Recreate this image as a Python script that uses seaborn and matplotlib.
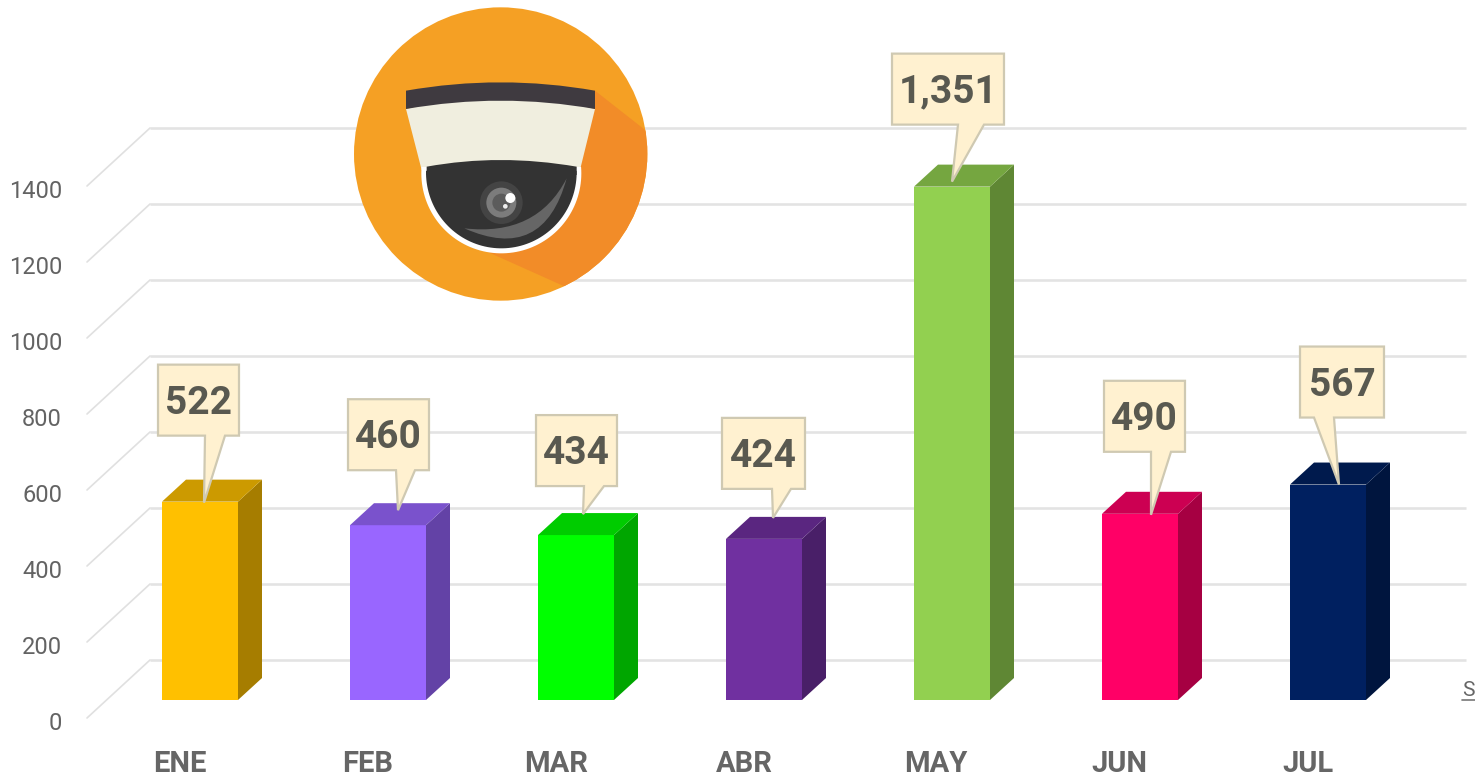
import numpy as np
import pandas as pd
import matplotlib
matplotlib.use('Agg')
import matplotlib.pyplot as plt
from matplotlib.colors import to_rgb
from matplotlib.patches import Circle, PathPatch, Polygon
from matplotlib.path import Path
import seaborn as sns

# chart data
months = ['ENE', 'FEB', 'MAR', 'ABR', 'MAY', 'JUN', 'JUL']
cases = [522, 460, 434, 424, 1351, 490, 567]
case_labels = ['522', '460', '434', '424', '1,351', '490', '567']
bar_colors = ['#FFC000', '#9966FF', '#00FF00', '#7030A0', '#92D050', '#FF0066', '#002060']
y_ticks = [0, 200, 400, 600, 800, 1000, 1200, 1400]

# callouts, in pixels from the top centre of each bar
box_left = [-42, -40, -40, -42, -60, -36, -28]
box_width = [81, 81, 81, 83, 112, 81, 84]
box_gap = [66, 55, 49, 50, 62, 62, 67]
tail_left = [5, 8, 8, 8, 6, 11, -14]
tail_right = [25, 27, 28, 27, 32, 31, 6]
tip_x = [4, 10, 7, 9, 0, 11, 11]
tip_y = [1, -15, -21, -21, -5, 1, 0]
box_height = 71

# scales of the picture
PX_PER_UNIT = 0.38
PX_PER_CAT = 188
DEPTH_X, DEPTH_Y = 24, 22


def dx(px):
    return px / PX_PER_CAT


def dy(px):
    return px / PX_PER_UNIT


def shade(color, k):
    return tuple(c * k for c in to_rgb(color))


sns.set_theme(style='white')
plt.rcParams['font.family'] = ['Roboto', 'DejaVu Sans']
fig = plt.figure(figsize=(14.75, 7.78), dpi=100)
ax = fig.add_axes([0, 0, 1, 1])

df = pd.DataFrame({'month': months, 'cases': cases})
sns.barplot(data=df, x='month', y='cases', hue='month', palette=bar_colors, legend=False,
            width=76 / PX_PER_CAT, saturation=1, linewidth=0, ax=ax, zorder=3)
ax.set_xlim(-200 / PX_PER_CAT, 1275 / PX_PER_CAT)
ax.set_ylim(dy(-78), dy(700))
ax.axis('off')

# back wall grid and the diagonal floor lines
grid_left = dx(150 - 200)
grid_right = dx(1466 - 200)
diag_left = dx(87 - 200)
for t in y_ticks:
    wall = t + dy(40)
    ax.plot([grid_left, grid_right], [wall, wall], color='#e3e3e3', lw=1.9, zorder=1, solid_capstyle='butt')
    ax.plot([diag_left, grid_left], [wall - dy(58), wall], color='#e0e0e0', lw=1.2, zorder=1)
    ax.text(dx(62 - 200), t - dy(23), str(t), ha='right', va='center', fontsize=17,
            color='#636363', zorder=2)

# 3d side and top faces of each bar
for bar, color in zip(ax.patches, bar_colors):
    x0, x1 = bar.get_x(), bar.get_x() + bar.get_width()
    top = bar.get_height()
    ax.add_patch(Polygon([(x1, 0), (x1 + dx(DEPTH_X), dy(DEPTH_Y)), (x1 + dx(DEPTH_X), top + dy(DEPTH_Y)), (x1, top)],
                         closed=True, fc=shade(color, 0.65), ec='none', zorder=3))
    ax.add_patch(Polygon([(x0, top), (x0 + dx(DEPTH_X), top + dy(DEPTH_Y)), (x1 + dx(DEPTH_X), top + dy(DEPTH_Y)), (x1, top)],
                         closed=True, fc=shade(color, 0.8), ec='none', zorder=3))

# value callouts
for i, value in enumerate(cases):
    left = i + dx(box_left[i])
    right = left + dx(box_width[i])
    bottom = value + dy(box_gap[i])
    top = bottom + dy(box_height)
    ax.add_patch(Polygon([(left, bottom), (left, top), (right, top), (right, bottom),
                          (i + dx(tail_right[i]), bottom),
                          (i + dx(tip_x[i]), value - dy(tip_y[i])),
                          (i + dx(tail_left[i]), bottom)],
                         closed=True, fc='#FFF1D0', ec='#CFC9B2', lw=1.6, zorder=5))
    ax.text((left + right) / 2, (bottom + top) / 2 - dy(3), case_labels[i], ha='center', va='center',
            fontsize=28, fontweight='bold', color='#595950', zorder=6)

# month labels sit a bit left of their bars
label_shift = [-20, -20, -20, -20, -16, -21, -20]
for i, m in enumerate(months):
    ax.text(i + dx(label_shift[i]), dy(-64), m, ha='center', va='center', fontsize=21,
            fontweight='bold', color='#666666', zorder=2)

# small text at the right edge, kept just inside the picture
ax.text(dx(1462 - 200), dy(9), 'S', ha='left', va='center', fontsize=15, color='#666666', zorder=2)
ax.plot([dx(1462 - 200), dx(1475 - 200)], [dy(0), dy(0)], color='#777777', lw=1.2, zorder=2)

# camera icon, drawn in its own axes in crop coordinates
icon = fig.add_axes([340 / 1475, (778 - 310) / 778, 320 / 1475, 310 / 778], zorder=4)
icon.set_xlim(0, 960)
icon.set_ylim(930, 0)
icon.axis('off')
icon.patch.set_alpha(0)


def ctrl_of(a, mid, b):
    return (2 * mid[0] - (a[0] + b[0]) / 2, 2 * mid[1] - (a[1] + b[1]) / 2)


def arc_shape(a, mid, b, rest, **kw):
    # a to b bowed through mid, then straight through rest
    verts = [a, ctrl_of(a, mid, b), b] + rest + [a]
    codes = [Path.MOVETO, Path.CURVE3, Path.CURVE3] + [Path.LINETO] * (len(rest) + 1)
    return PathPatch(Path(verts, codes), ec='none', **kw)


disc = Circle((482, 462), 440, fc='#F5A024', ec='none')
icon.add_patch(disc)
shadow = Polygon([(765, 272), (960, 425), (960, 930), (720, 880), (430, 750), (300, 500)],
                 closed=True, fc='#F28C28', ec='none')
icon.add_patch(shadow)
shadow.set_clip_path(disc)

# cream housing, then the dark band with a curved lower edge
icon.add_patch(arc_shape((198, 327), (482, 290), (765, 327), [(720, 510), (245, 510)], fc='#F0EEDF'))
band_a, band_b, band_c, band_d = (198, 272), (765, 272), (765, 327), (198, 327)
band = Path([band_a, ctrl_of(band_a, (482, 247), band_b), band_b, band_c,
             ctrl_of(band_c, (482, 302), band_d), band_d, band_a],
            [Path.MOVETO, Path.CURVE3, Path.CURVE3, Path.LINETO, Path.CURVE3, Path.CURVE3, Path.LINETO])
icon.add_patch(PathPatch(band, fc='#3F3A40', ec='none'))

rim_t = np.linspace(-0.08, np.pi + 0.08, 80)
icon.add_patch(Polygon(np.c_[484 + 240 * np.cos(rim_t), 520 + 240 * np.sin(rim_t)], closed=True, fc='white', ec='none'))
dome_t = np.linspace(-0.02, np.pi + 0.02, 80)
dome = np.c_[484 + 226 * np.cos(dome_t), 517 + 228 * np.sin(dome_t)]
icon.add_patch(Polygon(dome, closed=True, fc='#333333', ec='none'))
icon.add_patch(arc_shape((260, 500), (482, 480), (710, 500), [(710, 525), (260, 525)], fc='#333333'))

icon.add_patch(Circle((484, 608), 64, fc='#444444', ec='none'))
icon.add_patch(Circle((484, 608), 45, fc='#7c7c7c', ec='none'))
icon.add_patch(Circle((484, 608), 27, fc='#5c5c5c', ec='none'))
icon.add_patch(Circle((511, 594), 15, fc='white', ec='none'))
icon.add_patch(Circle((496, 619), 7, fc='#eeeeee', ec='none'))

# crescent shine on the dome
sheen = Path([(373, 685), (610, 790), (680, 535), (590, 710), (373, 685)],
             [Path.MOVETO, Path.CURVE3, Path.CURVE3, Path.CURVE3, Path.CURVE3])
icon.add_patch(PathPatch(sheen, fc='#666666', ec='none'))

plt.savefig('out.png', dpi=100)
